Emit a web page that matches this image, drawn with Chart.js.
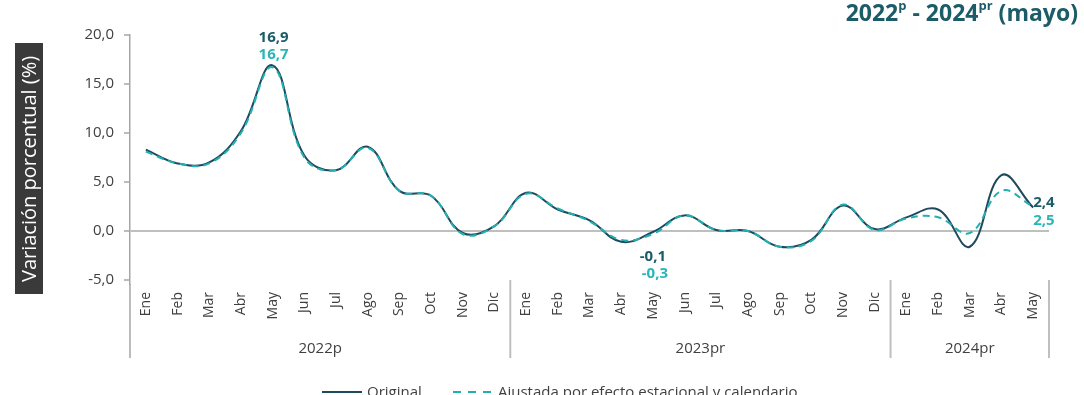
<!DOCTYPE html>
<html>
<head>
<meta charset="utf-8">
<script src="https://cdn.jsdelivr.net/npm/chart.js@4.4.1/dist/chart.umd.min.js"></script>
<style>
  html, body { margin: 0; padding: 0; background: #ffffff; overflow: hidden; }
  #wrap { position: relative; width: 1084px; height: 395px; }
  #c { position: absolute; left: 0; top: 0; }
  #title { position: absolute; right: 6px; top: -4px; font-family: "Open Sans", sans-serif; font-weight: 700; font-size: 23px; color: #1b5c68; white-space: nowrap; }
  #title sup { font-size: 13px; vertical-align: 0; position: relative; top: -11px; }
  #ytitle { position: absolute; left: 15px; top: 43px; width: 28px; height: 251px; background: #3a3a3a; color: #ffffff; font-family: "Open Sans", sans-serif; font-size: 20px; writing-mode: vertical-rl; transform: rotate(180deg); text-align: center; line-height: 28px; white-space: nowrap; }
</style>
</head>
<body>
<div id="wrap">
  <canvas id="c" width="1084" height="395"></canvas>
  <div id="title">2022<sup>p</sup> - 2024<sup>pr</sup> (mayo)</div>
  <div id="ytitle">Variación porcentual (%)</div>
</div>
<script>
const months = ["Ene","Feb","Mar","Abr","May","Jun","Jul","Ago","Sep","Oct","Nov","Dic",
                "Ene","Feb","Mar","Abr","May","Jun","Jul","Ago","Sep","Oct","Nov","Dic",
                "Ene","Feb","Mar","Abr","May"];
const years = [
  { label: "2022p", from: 0, to: 11 },
  { label: "2023pr", from: 12, to: 23 },
  { label: "2024pr", from: 24, to: 28 }
];
const original = [8.3, 6.9, 7.0, 10.2, 16.9, 7.7, 6.2, 8.6, 4.1, 3.6, -0.2, 0.5,
                  3.9, 2.2, 1.1, -1.1, -0.1, 1.6, 0.1, 0.0, -1.6, -0.9, 2.6, 0.2,
                  1.4, 2.2, -1.6, 5.7, 2.4];
const ajustada = [8.1, 6.9, 6.9, 10.0, 16.7, 7.5, 6.2, 8.5, 4.1, 3.6, -0.3, 0.5,
                  3.8, 2.3, 1.0, -0.9, -0.3, 1.6, 0.1, 0.0, -1.6, -1.0, 2.7, 0.1,
                  1.3, 1.4, -0.2, 4.1, 2.5];
const yTicks = [-5, 0, 5, 10, 15, 20];
const seriesNames = ["Original", "Ajustada por efecto estacional y calendario"];
const annotations = [
  { index: 4, orig: "16,9", adj: "16,7", pos: "above" },
  { index: 16, orig: "-0,1", adj: "-0,3", pos: "below" },
  { index: 28, orig: "2,4", adj: "2,5", pos: "right" }
];

const DARK = "#1f4a5c";
const TEAL = "#21b0b3";
const LABEL_DARK = "#1b5c68";
const LABEL_TEAL = "#29b6b9";
const FONT = "'Open Sans', sans-serif";

const extras = {
  id: "extras",
  afterDraw(chart) {
    const ctx = chart.ctx;
    const x = chart.scales.x;
    const y = chart.scales.y;
    const area = chart.chartArea;
    const half = (x.getPixelForValue(1) - x.getPixelForValue(0)) / 2;
    ctx.save();
    const sepBottom = 358;
    ctx.beginPath();
    ctx.strokeStyle = "#a6a6a6";
    ctx.lineWidth = 1.5;
    ctx.moveTo(area.left, area.bottom);
    ctx.lineTo(area.left, sepBottom);
    ctx.stroke();
    ctx.strokeStyle = "#bfbfbf";
    ctx.lineWidth = 2;
    years.forEach((yr) => {
      const xr = x.getPixelForValue(yr.to) + half;
      ctx.beginPath();
      ctx.moveTo(xr, area.bottom - 4);
      ctx.lineTo(xr, sepBottom);
      ctx.stroke();
    });
    ctx.fillStyle = "#404040";
    ctx.font = "15px " + FONT;
    ctx.textAlign = "center";
    ctx.textBaseline = "middle";
    years.forEach((yr) => {
      const l = yr.from === 0 ? area.left : x.getPixelForValue(yr.from) - half;
      const r = x.getPixelForValue(yr.to) + half;
      ctx.fillText(yr.label, (l + r) / 2, 349);
    });
    ctx.font = "bold 15px " + FONT;
    annotations.forEach((a) => {
      const px = x.getPixelForValue(a.index);
      const py = y.getPixelForValue(original[a.index]);
      if (a.pos === "above") {
        ctx.textAlign = "center";
        ctx.fillStyle = LABEL_DARK; ctx.fillText(a.orig, px + 1, py - 28);
        ctx.fillStyle = LABEL_TEAL; ctx.fillText(a.adj, px + 1, py - 11);
      } else if (a.pos === "below") {
        ctx.textAlign = "center";
        ctx.fillStyle = LABEL_DARK; ctx.fillText(a.orig, px, py + 25);
        ctx.fillStyle = LABEL_TEAL; ctx.fillText(a.adj, px + 2, py + 42);
      } else {
        ctx.textAlign = "left";
        ctx.fillStyle = LABEL_DARK; ctx.fillText(a.orig, px + 0, py - 5);
        ctx.fillStyle = LABEL_TEAL; ctx.fillText(a.adj, px + 0, py + 13);
      }
    });
    const ly = 392;
    ctx.lineWidth = 2;
    ctx.strokeStyle = DARK;
    ctx.setLineDash([]);
    ctx.beginPath(); ctx.moveTo(322, ly); ctx.lineTo(362, ly); ctx.stroke();
    ctx.strokeStyle = TEAL;
    ctx.setLineDash([8, 7]);
    ctx.beginPath(); ctx.moveTo(453, ly); ctx.lineTo(492, ly); ctx.stroke();
    ctx.setLineDash([]);
    ctx.fillStyle = "#404040";
    ctx.font = "15px " + FONT;
    ctx.textAlign = "left";
    ctx.textBaseline = "alphabetic";
    ctx.fillText(seriesNames[0], 367, 397);
    ctx.fillText(seriesNames[1], 498, 397);
    ctx.restore();
  }
};

new Chart(document.getElementById("c"), {
  type: "line",
  data: {
    labels: months,
    datasets: [
      { label: seriesNames[0], data: original, borderColor: DARK, borderWidth: 2, pointRadius: 0, tension: 0.4, fill: false, order: 1 },
      { label: seriesNames[1], data: ajustada, borderColor: TEAL, borderWidth: 2, borderDash: [7, 5], pointRadius: 0, tension: 0.4, fill: false, order: 0 }
    ]
  },
  options: {
    responsive: false,
    animation: false,
    events: [],
    layout: { padding: { top: 35, right: 35, bottom: 36, left: 0 } },
    plugins: { legend: { display: false }, title: { display: false }, tooltip: { enabled: false } },
    scales: {
      x: {
        type: "category",
        offset: true,
        grid: { display: false, drawTicks: false },
        border: { display: false },
        ticks: { autoSkip: false, maxRotation: 90, minRotation: 90, padding: 8, color: "#404040", font: { family: FONT, size: 14 } },
        afterFit(scale) { scale.height = 75; }
      },
      y: {
        min: -5.4,
        max: 20,
        afterBuildTicks(scale) { scale.ticks = yTicks.map(v => ({ value: v })); },
        afterFit(scale) { scale.width = 130; },
        grid: {
          drawOnChartArea: true,
          color: (c) => (c.tick && c.tick.value === 0) ? "#bfbfbf" : "rgba(0,0,0,0)",
          lineWidth: 2,
          tickColor: "#a6a6a6",
          tickWidth: 1.5,
          tickLength: 6
        },
        border: { display: true, color: "#a6a6a6", width: 1.5 },
        ticks: {
          padding: 10,
          color: "#404040",
          font: { family: FONT, size: 15 },
          callback: (v) => Number(v).toFixed(1).replace(".", ",")
        }
      }
    }
  },
  plugins: [extras]
});
</script>
</body>
</html>
